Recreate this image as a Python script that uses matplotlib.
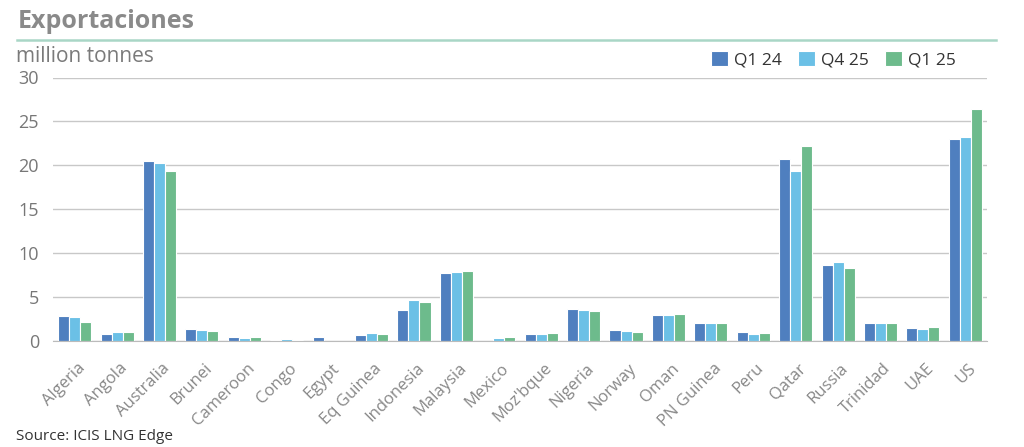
import matplotlib
matplotlib.use("Agg")
import matplotlib.pyplot as plt
import matplotlib.transforms as mtrans
import numpy as np

plt.rcParams['font.family'] = ['Open Sans', 'DejaVu Sans']

countries = ["Algeria", "Angola", "Australia", "Brunei", "Cameroon", "Congo", "Egypt",
             "Eq Guinea", "Indonesia", "Malaysia", "Mexico", "Moz'bque", "Nigeria", "Norway",
             "Oman", "PN Guinea", "Peru", "Qatar", "Russia", "Trinidad", "UAE", "US"]
q1_24 = [2.9, 0.8, 20.5, 1.4, 0.4, 0.1, 0.4, 0.7, 3.5, 7.7, 0.0, 0.8, 3.6, 1.2,
         3.0, 2.0, 1.0, 20.7, 8.7, 2.1, 1.5, 23.0]
q4_25 = [2.7, 1.0, 20.3, 1.2, 0.3, 0.2, 0.0, 0.9, 4.7, 7.9, 0.3, 0.8, 3.5, 1.1,
         3.0, 2.1, 0.8, 19.3, 9.0, 2.0, 1.4, 23.2]
q1_25 = [2.2, 1.0, 19.3, 1.1, 0.4, 0.1, 0.0, 0.8, 4.4, 8.0, 0.4, 0.9, 3.4, 1.0,
         3.1, 2.1, 0.9, 22.2, 8.3, 2.0, 1.6, 26.4]
series_names = ["Q1 24", "Q4 25", "Q1 25"]
colors = ["#4F7FBF", "#6BC0E6", "#6DBB8C"]
yticks = [0, 5, 10, 15, 20, 25, 30]

W, H = 1024, 447
fig = plt.figure(figsize=(W / 100, H / 100), dpi=100)
ax = fig.add_axes([53 / W, 1 - 341 / H, (987 - 53) / W, (341 - 77.5) / H])

x = np.arange(len(countries))
bw = 0.26
for i, (vals, name, c) in enumerate(zip([q1_24, q4_25, q1_25], series_names, colors)):
    ax.bar(x + (i - 1) * bw, vals, width=bw, color=c, edgecolor="white",
           linewidth=0.8, label=name, zorder=3)

ax.set_xlim(-0.51, len(countries) - 0.49)
ax.set_ylim(0, 30)
ax.set_yticks(yticks)
ax.set_yticklabels([str(t) for t in yticks], fontsize=13, color="#777777")
ax.tick_params(axis="y", length=0, pad=10)
ax.grid(axis="y", color="#c8c8c8", linewidth=1.0, zorder=0)
for s in ["top", "right", "left"]:
    ax.spines[s].set_visible(False)
ax.spines["bottom"].set_color("#bbbbbb")
ax.spines["bottom"].set_zorder(4)

ax.set_xticks(x)
ax.set_xticklabels(countries, rotation=45, ha="right", va="center",
                   rotation_mode="anchor", fontsize=12, color="#888888")
ax.tick_params(axis="x", length=0, pad=18)
off = mtrans.ScaledTranslation(8 / 100, 0, fig.dpi_scale_trans)
for lab in ax.get_xticklabels():
    lab.set_transform(lab.get_transform() + off)

leg = ax.legend(loc="upper right", bbox_to_anchor=(963 / W, 1 - 44 / H),
                bbox_transform=fig.transFigure, ncol=3, frameon=False,
                fontsize=12.5, handlelength=1.0, handleheight=1.0,
                handletextpad=0.35, columnspacing=0.9, borderaxespad=0)
for t in leg.get_texts():
    t.set_color("#333333")

fig.text(18 / W, 1 - 22 / H, "Exportaciones", fontsize=18, fontweight="bold",
         color="#8a8a8a", va="center", ha="left")
fig.add_artist(plt.Line2D([17 / W, 996 / W], [1 - 40 / H, 1 - 40 / H],
                          transform=fig.transFigure, color="#a9d6c6", linewidth=1.8))
fig.text(16 / W, 1 - 57 / H, "million tonnes", fontsize=15, color="#7a7a7a",
         va="center", ha="left")
fig.text(16 / W, 1 - 437 / H, "Source: ICIS LNG Edge", fontsize=11,
         color="#333333", va="center", ha="left")

fig.savefig("out.png", dpi=100, facecolor="white")
